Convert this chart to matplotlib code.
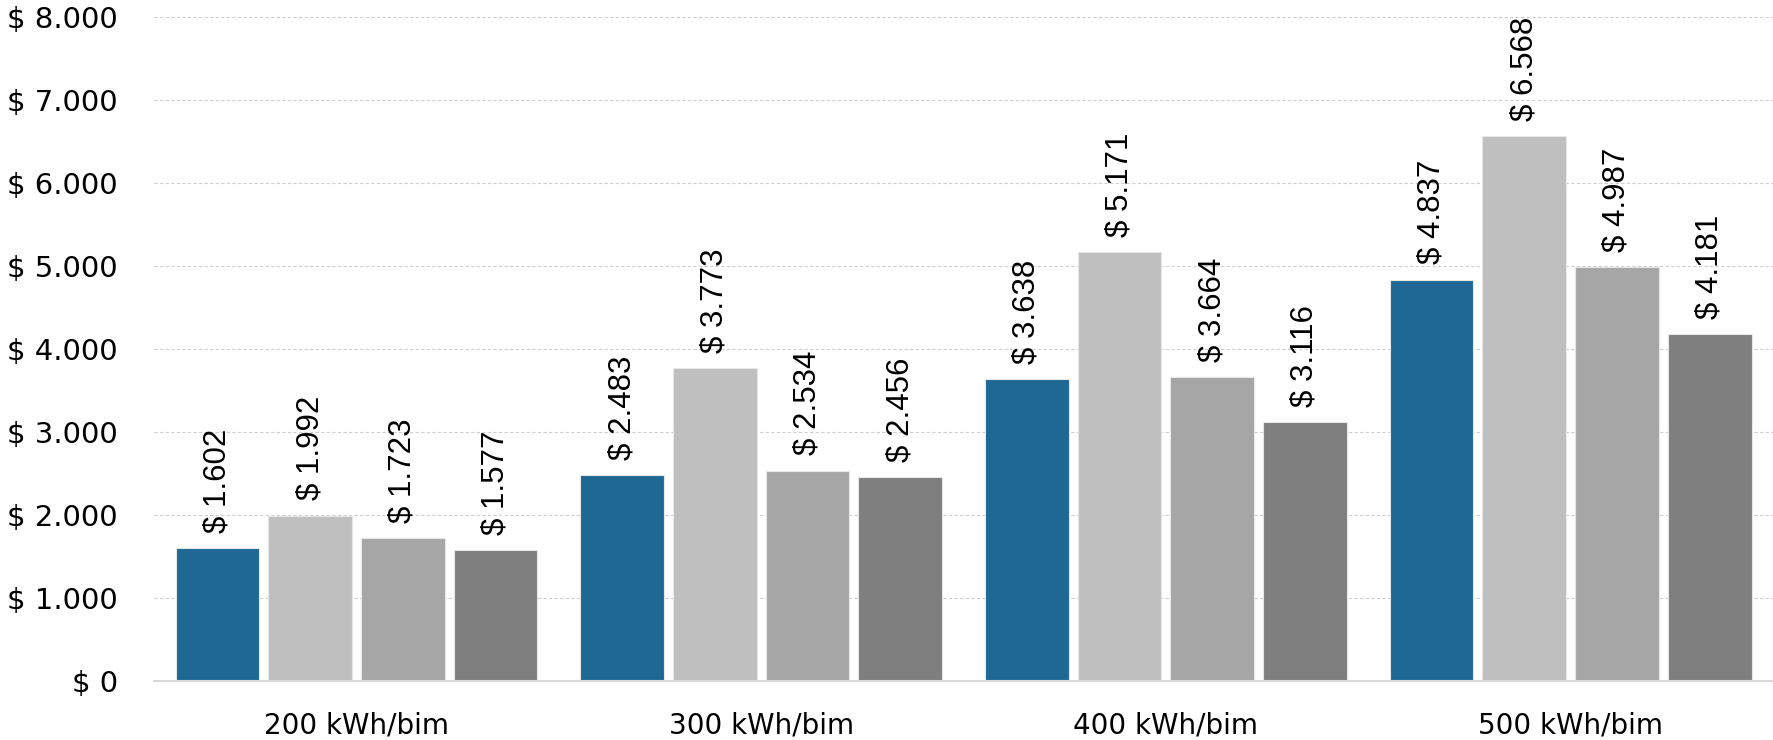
import numpy as np
import matplotlib.pyplot as plt

categories = ["200 kWh/bim", "300 kWh/bim", "400 kWh/bim", "500 kWh/bim"]
serie_a = [1602, 2483, 3638, 4837]
serie_b = [1992, 3773, 5171, 6568]
serie_c = [1723, 2534, 3664, 4987]
serie_d = [1577, 2456, 3116, 4181]
y_ticks = [0, 1000, 2000, 3000, 4000, 5000, 6000, 7000, 8000]

colors = ["#1F6894", "#BFBFBF", "#A6A6A6", "#7F7F7F"]


def money(v):
    return "$ " + f"{v:,.0f}".replace(",", ".")


fig = plt.figure(figsize=(17.73, 7.4), dpi=100)
ax = fig.add_axes([0.0869, 0.0797, 0.9131, 0.8973])

x = np.arange(len(categories))
width = 0.207
step = 0.229
series = [serie_a, serie_b, serie_c, serie_d]
for i, (vals, col) in enumerate(zip(series, colors)):
    pos = x + (i - 1.5) * step
    bars = ax.bar(pos, vals, width, color=col, edgecolor="#E6E6E6", linewidth=0.8, zorder=3)
    for b, v in zip(bars, vals):
        ax.annotate(money(v), (b.get_x() + b.get_width() / 2, v),
                    xytext=(0, 11), textcoords="offset points",
                    rotation=90, ha="center", va="bottom",
                    fontsize=22.5, family="Liberation Sans", color="black")

ax.set_xlim(-0.5, 3.5)
ax.set_ylim(0, 8000)
ax.set_yticks(y_ticks)
ax.set_yticklabels([money(v) for v in y_ticks], fontsize=21, family="DejaVu Sans")
ax.set_xticks(x)
ax.set_xticklabels(categories, fontsize=20, family="DejaVu Sans")
ax.tick_params(axis="y", length=0, pad=26)
ax.tick_params(axis="x", length=0, pad=22)

ax.grid(axis="y", color="#CFCFCF", linestyle=(0, (3, 2)), linewidth=0.8, zorder=0)
for s in ["top", "right", "left"]:
    ax.spines[s].set_visible(False)
ax.spines["bottom"].set_color("#D9D9D9")
ax.spines["bottom"].set_linewidth(1.5)
ax.spines["bottom"].set_zorder(4)

fig.savefig("out.png", dpi=100)
